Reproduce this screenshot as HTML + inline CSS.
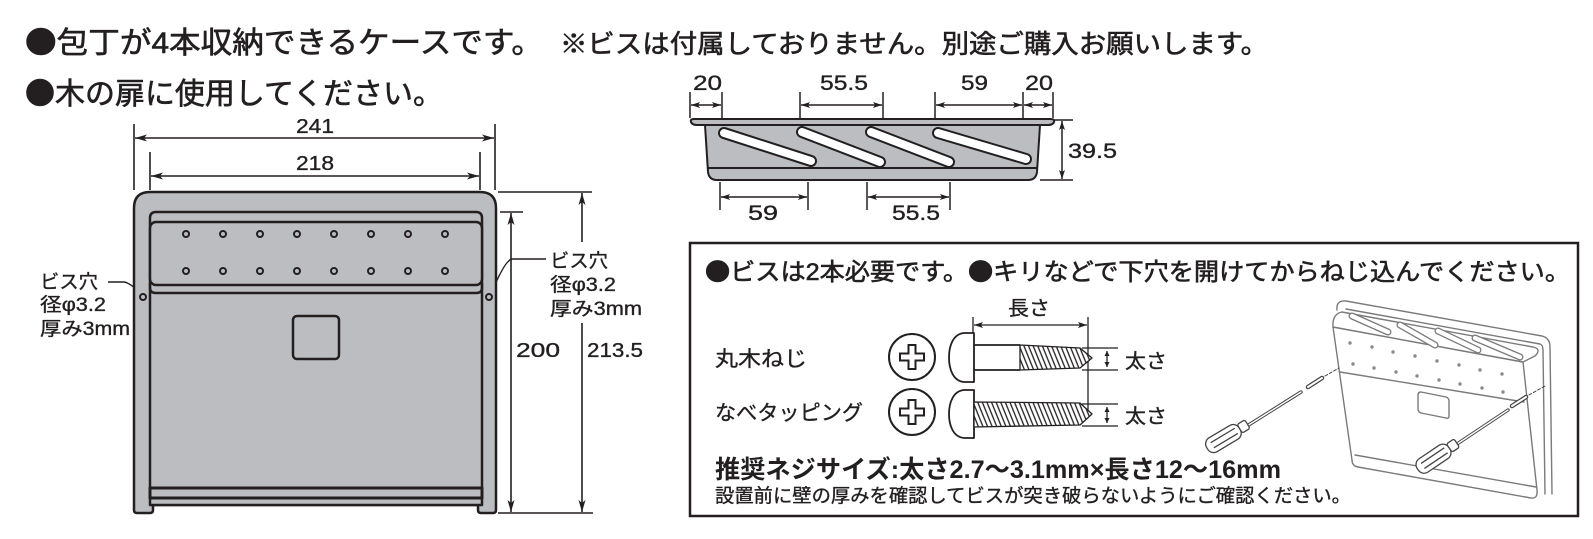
<!DOCTYPE html>
<html><head><meta charset="utf-8">
<style>
html,body{margin:0;padding:0;background:#fff;}
svg{display:block;}
text{font-family:"Liberation Sans","Noto Sans CJK JP",sans-serif;fill:#231f20;}
.h{stroke:#231f20;stroke-width:0.6;}
.m{stroke:#231f20;stroke-width:0.35;}
.b{font-family:"Noto Sans CJK JP",sans-serif;}
</style></head>
<body>
<svg width="1593" height="539" viewBox="0 0 1593 539" xmlns="http://www.w3.org/2000/svg">
<defs>
<marker id="a" viewBox="0 0 12 7" refX="12" refY="3.5" markerWidth="12" markerHeight="7" markerUnits="userSpaceOnUse" orient="auto-start-reverse"><path d="M0,0 L12,3.5 L0,7 L3,3.5Z" fill="#231f20"/></marker>
<marker id="s" viewBox="0 0 9 6" refX="9" refY="3" markerWidth="9" markerHeight="6" markerUnits="userSpaceOnUse" orient="auto-start-reverse"><path d="M0,0 L9,3 L0,6 L2,3Z" fill="#231f20"/></marker>
<marker id="t" viewBox="0 0 5 5" refX="5" refY="2.5" markerWidth="5" markerHeight="5" markerUnits="userSpaceOnUse" orient="auto-start-reverse"><path d="M0,0 L5,2.5 L0,5Z" fill="#231f20"/></marker>
<pattern id="thr" width="4.6" height="80" patternUnits="userSpaceOnUse" patternTransform="skewX(22)"><rect width="4.6" height="80" fill="#fff"/><line x1="1" y1="0" x2="1" y2="80" stroke="#231f20" stroke-width="1.4"/></pattern>
</defs>

<!-- Titles -->
<text class="h" x="25" y="53" font-size="30" textLength="518" lengthAdjust="spacingAndGlyphs"><tspan class="b">●</tspan>包丁が4本収納できるケースです。</text>
<text class="h" x="560" y="53" font-size="26" textLength="708" lengthAdjust="spacingAndGlyphs">※ビスは付属しておりません。別途ご購入お願いします。</text>
<text class="h" x="25" y="104" font-size="30" textLength="418" lengthAdjust="spacingAndGlyphs"><tspan class="b">●</tspan>木の扉に使用してください。</text>

<!-- ===== Left front drawing ===== -->
<g stroke="#231f20" fill="none" stroke-width="1.6">
  <line x1="134" y1="124" x2="134" y2="190"/>
  <line x1="495" y1="124" x2="495" y2="190"/>
  <line x1="135" y1="138" x2="494" y2="138" marker-start="url(#a)" marker-end="url(#a)"/>
  <line x1="150" y1="152" x2="150" y2="190"/>
  <line x1="480" y1="152" x2="480" y2="190"/>
  <line x1="151" y1="176" x2="479" y2="176" marker-start="url(#a)" marker-end="url(#a)"/>
  <line x1="498" y1="192" x2="592" y2="192"/>
  <line x1="500" y1="212" x2="523" y2="212"/>
  <line x1="498" y1="513" x2="593" y2="513"/>
  <line x1="511" y1="213" x2="511" y2="512" marker-start="url(#a)" marker-end="url(#a)"/>
  <line x1="582" y1="193" x2="582" y2="242" marker-start="url(#a)"/>
  <line x1="582" y1="323" x2="582" y2="512" marker-end="url(#a)"/>
  <path d="M108,282 L124,282 Q131,283 141,294" stroke-width="1.4"/>
  <path d="M546,259 L512,259 Q505,260 491,294" stroke-width="1.4"/>
</g>
<text class="m" x="315" y="133" font-size="20" text-anchor="middle" textLength="38" lengthAdjust="spacingAndGlyphs">241</text>
<text class="m" x="315" y="170" font-size="20" text-anchor="middle" textLength="38" lengthAdjust="spacingAndGlyphs">218</text>
<text class="m" x="516" y="357" font-size="20" textLength="44" lengthAdjust="spacingAndGlyphs">200</text>
<text class="m" x="587" y="357" font-size="20" textLength="56" lengthAdjust="spacingAndGlyphs">213.5</text>

<g fill="#bcbdc0" stroke="#231f20" stroke-width="2.5" stroke-linejoin="round">
  <path d="M134,208 Q134,192 150,192 L480,192 Q496,192 496,208 L496,510 Q496,513 493,513 L481,513 Q478,513 478,510 L478,505 L153,505 L153,510 Q153,513 150,513 L137,513 Q134,513 134,510 Z"/>
  <path d="M150,505 L150,218 Q150,212 156,212 L476,212 Q482,212 482,218 L482,505 Z"/>
  <path d="M150,283 L150,288 Q150,293 156,293 L476,293 Q482,293 482,288 L482,283" fill="none"/>
  <rect x="150" y="222" width="332" height="63" rx="6"/>
  <rect x="293" y="316" width="46" height="43" rx="4"/>
  <rect x="150" y="488" width="332" height="10" stroke-width="3"/>
  <line x1="150" y1="505" x2="482" y2="505" stroke-width="2"/>
</g>
<g fill="#bcbdc0" stroke="#231f20" stroke-width="2">
  <circle cx="186" cy="234" r="3"/><circle cx="223" cy="234" r="3"/><circle cx="260" cy="234" r="3"/><circle cx="297" cy="234" r="3"/><circle cx="334" cy="234" r="3"/><circle cx="371" cy="234" r="3"/><circle cx="408" cy="234" r="3"/><circle cx="445" cy="234" r="3"/>
  <circle cx="186" cy="271" r="3"/><circle cx="223" cy="271" r="3"/><circle cx="260" cy="271" r="3"/><circle cx="297" cy="271" r="3"/><circle cx="334" cy="271" r="3"/><circle cx="371" cy="271" r="3"/><circle cx="408" cy="271" r="3"/><circle cx="445" cy="271" r="3"/>
  <circle cx="143" cy="297" r="3"/><circle cx="489" cy="297" r="3"/>
</g>

<text class="m" x="40" y="288" font-size="19" textLength="58" lengthAdjust="spacingAndGlyphs">ビス穴</text>
<text class="m" x="40" y="311" font-size="19" textLength="66" lengthAdjust="spacingAndGlyphs">径φ3.2</text>
<text class="m" x="40" y="335" font-size="19" textLength="90" lengthAdjust="spacingAndGlyphs">厚み3mm</text>
<text class="m" x="550" y="267" font-size="19" textLength="58" lengthAdjust="spacingAndGlyphs">ビス穴</text>
<text class="m" x="550" y="291" font-size="19" textLength="66" lengthAdjust="spacingAndGlyphs">径φ3.2</text>
<text class="m" x="550" y="315" font-size="19" textLength="92" lengthAdjust="spacingAndGlyphs">厚み3mm</text>

<!-- ===== Tray (top view) ===== -->
<g stroke="#231f20" fill="none" stroke-width="1.5">
  <line x1="690" y1="92" x2="690" y2="118"/>
  <line x1="722" y1="92" x2="722" y2="120"/>
  <line x1="800" y1="92" x2="800" y2="120"/>
  <line x1="883" y1="92" x2="883" y2="120"/>
  <line x1="935" y1="92" x2="935" y2="120"/>
  <line x1="1023" y1="92" x2="1023" y2="120"/>
  <line x1="1053" y1="92" x2="1053" y2="118"/>
  <line x1="691" y1="105" x2="721" y2="105" marker-start="url(#s)" marker-end="url(#s)"/>
  <line x1="801" y1="105" x2="882" y2="105" marker-start="url(#s)" marker-end="url(#s)"/>
  <line x1="936" y1="105" x2="1022" y2="105" marker-start="url(#s)" marker-end="url(#s)"/>
  <line x1="1024" y1="105" x2="1052" y2="105" marker-start="url(#s)" marker-end="url(#s)"/>
  <line x1="720" y1="182" x2="720" y2="210"/>
  <line x1="808" y1="182" x2="808" y2="210"/>
  <line x1="867" y1="182" x2="867" y2="210"/>
  <line x1="950" y1="182" x2="950" y2="210"/>
  <line x1="721" y1="197" x2="807" y2="197" marker-start="url(#s)" marker-end="url(#s)"/>
  <line x1="868" y1="197" x2="949" y2="197" marker-start="url(#s)" marker-end="url(#s)"/>
  <line x1="1040" y1="120" x2="1073" y2="120"/>
  <line x1="1040" y1="180" x2="1073" y2="180"/>
  <line x1="1062" y1="121" x2="1062" y2="179" marker-start="url(#s)" marker-end="url(#s)"/>
</g>
<g fill="#bcbdc0" stroke="#231f20" stroke-width="2" stroke-linejoin="round">
  <path d="M705,125 L1040,125 L1037,172 Q1036,180 1028,180 L717,180 Q709,180 708,172 Z"/>
  <line x1="708" y1="168" x2="1037" y2="168"/>
  <path d="M694,119 L1050,119 Q1055,119 1054,122 Q1053,125 1048,125 L697,125 Q692,125 691,122 Q690,119 694,119 Z"/>
</g>
<g stroke-linecap="round" fill="none">
  <g stroke="#231f20" stroke-width="12">
    <line x1="724" y1="133" x2="811" y2="161"/>
    <line x1="802" y1="132" x2="880" y2="162"/>
    <line x1="871" y1="132" x2="949" y2="162"/>
    <line x1="938" y1="133" x2="1026" y2="159"/>
  </g>
  <g stroke="#fff" stroke-width="8">
    <line x1="724" y1="133" x2="811" y2="161"/>
    <line x1="802" y1="132" x2="880" y2="162"/>
    <line x1="871" y1="132" x2="949" y2="162"/>
    <line x1="938" y1="133" x2="1026" y2="159"/>
  </g>
</g>
<text class="m" x="693" y="90" font-size="21" textLength="29" lengthAdjust="spacingAndGlyphs">20</text>
<text class="m" x="820" y="90" font-size="21" textLength="48" lengthAdjust="spacingAndGlyphs">55.5</text>
<text class="m" x="961" y="90" font-size="21" textLength="27" lengthAdjust="spacingAndGlyphs">59</text>
<text class="m" x="1025" y="90" font-size="21" textLength="28" lengthAdjust="spacingAndGlyphs">20</text>
<text class="m" x="748" y="220" font-size="21" textLength="30" lengthAdjust="spacingAndGlyphs">59</text>
<text class="m" x="892" y="220" font-size="21" textLength="48" lengthAdjust="spacingAndGlyphs">55.5</text>
<text class="m" x="1068" y="158" font-size="21" textLength="49" lengthAdjust="spacingAndGlyphs">39.5</text>

<!-- ===== Bordered info box ===== -->
<rect x="690" y="243" width="888" height="273" fill="none" stroke="#231f20" stroke-width="2.5"/>
<text class="h" x="705" y="280" font-size="24" textLength="865" lengthAdjust="spacingAndGlyphs"><tspan class="b">●</tspan>ビスは2本必要です。<tspan class="b">●</tspan>キリなどで下穴を開けてからねじ込んでください。</text>

<text class="m" x="1008" y="315" font-size="20" textLength="42" lengthAdjust="spacingAndGlyphs">長さ</text>
<text class="m" x="715" y="366" font-size="21" textLength="92" lengthAdjust="spacingAndGlyphs">丸木ねじ</text>
<text class="m" x="715" y="420" font-size="21" textLength="148" lengthAdjust="spacingAndGlyphs">なべタッピング</text>
<text class="m" x="1125" y="368" font-size="20" textLength="42" lengthAdjust="spacingAndGlyphs">太さ</text>
<text class="m" x="1125" y="423" font-size="20" textLength="42" lengthAdjust="spacingAndGlyphs">太さ</text>

<g stroke="#231f20" fill="none" stroke-width="1.3">
  <line x1="973" y1="317" x2="973" y2="333"/>
  <line x1="1088" y1="317" x2="1088" y2="418"/>
  <line x1="974" y1="325" x2="1087" y2="325" marker-start="url(#s)" marker-end="url(#s)"/>
  <line x1="1082" y1="348" x2="1118" y2="348"/>
  <line x1="1082" y1="370" x2="1118" y2="370"/>
  <line x1="1107" y1="351" x2="1107" y2="367" marker-start="url(#t)" marker-end="url(#t)"/>
  <line x1="1082" y1="404" x2="1118" y2="404"/>
  <line x1="1082" y1="426" x2="1118" y2="426"/>
  <line x1="1107" y1="407" x2="1107" y2="423" marker-start="url(#t)" marker-end="url(#t)"/>
</g>

<g stroke="#231f20" stroke-width="2" fill="#fff">
  <circle cx="912" cy="357" r="23"/>
  <path d="M908.5,345 L915.5,345 L915.5,353.5 L924,353.5 L924,360.5 L915.5,360.5 L915.5,369 L908.5,369 L908.5,360.5 L900,360.5 L900,353.5 L908.5,353.5 Z"/>
  <circle cx="912" cy="412" r="23"/>
  <path d="M908.5,400 L915.5,400 L915.5,408.5 L924,408.5 L924,415.5 L915.5,415.5 L915.5,424 L908.5,424 L908.5,415.5 L900,415.5 L900,408.5 L908.5,408.5 Z"/>
</g>

<g stroke="#231f20" stroke-width="1.8" stroke-linejoin="round">
  <path d="M974,333 L964,333 C953,334 949,346 949,357.5 C949,369 953,381 964,382 L974,382 Z" fill="#fff"/>
  <line x1="974" y1="345" x2="1020" y2="345"/>
  <line x1="974" y1="370" x2="1020" y2="370"/>
  <path d="M1020,345 L1080,348 L1092,358 L1080,368 L1020,370 Z" fill="url(#thr)" stroke-width="1.3"/>
  <path d="M974,390 L964,390 C953,391 949,403 949,414 C949,425 953,437 964,438 L974,438 Z" fill="#fff"/>
  <path d="M974,402 L1080,403 L1092,414 L1080,425 L974,427 Z" fill="url(#thr)" stroke-width="1.3"/>
</g>

<text x="715" y="478" font-size="25" font-weight="700" textLength="566" lengthAdjust="spacingAndGlyphs">推奨ネジサイズ:太さ2.7〜3.1mm×長さ12〜16mm</text>
<text class="m" x="715" y="502" font-size="19" textLength="636" lengthAdjust="spacingAndGlyphs">設置前に壁の厚みを確認してビスが突き破らないようにご確認ください。</text>

<!-- ===== Installation illustration ===== -->
<g fill="#fff" stroke="#7a7a7a" stroke-width="1.4" stroke-linejoin="round" stroke-linecap="round">
  <path d="M1337,310 Q1336,300 1346,301 L1542,336 Q1550,338 1550,347 L1552,494" fill="none"/>
  <path d="M1346,309 L1540,344 Q1543,345 1543,350 L1545,494" fill="none"/>
  <path d="M1333,327 L1523,362 L1537,490 Q1538,499 1531,498 L1358,467 Q1352,466 1352,460 Z"/>
  <path d="M1333,327 Q1332,314 1342,312 L1533,347 Q1542,349 1535,356 L1523,362 Z"/>
  <line x1="1340" y1="372" x2="1524" y2="402"/>
  <line x1="1355" y1="455" x2="1536" y2="487"/>
  <path d="M1421,392 L1446,397 Q1449,398 1449,401 L1449,416 Q1449,419 1446,418 L1421,413 Q1418,412 1418,409 L1418,395 Q1418,392 1421,392Z"/>
</g>
<g stroke-linecap="round" fill="none">
  <g stroke="#7a7a7a" stroke-width="7">
    <line x1="1352" y1="316" x2="1388" y2="332"/>
    <line x1="1400" y1="325" x2="1435" y2="345"/>
    <line x1="1438" y1="331" x2="1478" y2="350"/>
    <line x1="1475" y1="338" x2="1520" y2="357"/>
  </g>
  <g stroke="#fff" stroke-width="4.4">
    <line x1="1352" y1="316" x2="1388" y2="332"/>
    <line x1="1400" y1="325" x2="1435" y2="345"/>
    <line x1="1438" y1="331" x2="1478" y2="350"/>
    <line x1="1475" y1="338" x2="1520" y2="357"/>
  </g>
</g>
<g fill="#8a8a8a">
  <circle cx="1350" cy="343" r="1.7"/><circle cx="1372" cy="347" r="1.7"/><circle cx="1393" cy="352" r="1.7"/><circle cx="1415" cy="356" r="1.7"/><circle cx="1437" cy="361" r="1.7"/><circle cx="1459" cy="365" r="1.7"/><circle cx="1480" cy="370" r="1.7"/><circle cx="1502" cy="374" r="1.7"/>
  <circle cx="1353" cy="364" r="1.7"/><circle cx="1374" cy="368" r="1.7"/><circle cx="1396" cy="372" r="1.7"/><circle cx="1417" cy="376" r="1.7"/><circle cx="1439" cy="380" r="1.7"/><circle cx="1460" cy="384" r="1.7"/><circle cx="1482" cy="388" r="1.7"/><circle cx="1503" cy="392" r="1.7"/>
</g>
<g stroke="#444" fill="none" stroke-linecap="round">
  <line x1="1247" y1="426" x2="1301" y2="392" stroke-width="3.4"/>
  <line x1="1247" y1="426" x2="1301" y2="392" stroke="#fff" stroke-width="1.4"/>
  <line x1="1308" y1="387" x2="1322" y2="378" stroke-width="4.5"/>
  <line x1="1308" y1="387" x2="1322" y2="378" stroke="#fff" stroke-width="2"/>
  <line x1="1325" y1="376" x2="1339" y2="368" stroke-width="1" stroke-dasharray="3 2"/>
  <line x1="1457" y1="444" x2="1508" y2="410" stroke-width="3.4"/>
  <line x1="1457" y1="444" x2="1508" y2="410" stroke="#fff" stroke-width="1.4"/>
  <line x1="1512" y1="406" x2="1526" y2="397" stroke-width="4.5"/>
  <line x1="1512" y1="406" x2="1526" y2="397" stroke="#fff" stroke-width="2"/>
  <line x1="1529" y1="395" x2="1545" y2="386" stroke-width="1" stroke-dasharray="3 2"/>
</g>
<g transform="translate(1226,437) rotate(-31)" stroke="#444" stroke-width="1.3" fill="#fff">
  <rect x="-22" y="-8" width="38" height="16" rx="7"/>
  <rect x="16" y="-5" width="9" height="10" rx="2"/>
  <line x1="-16" y1="-3" x2="12" y2="-3"/><line x1="-16" y1="3" x2="12" y2="3"/>
</g>
<g transform="translate(1436,457) rotate(-34)" stroke="#444" stroke-width="1.3" fill="#fff">
  <rect x="-22" y="-8" width="38" height="16" rx="7"/>
  <rect x="16" y="-5" width="9" height="10" rx="2"/>
  <line x1="-16" y1="-3" x2="12" y2="-3"/><line x1="-16" y1="3" x2="12" y2="3"/>
</g>
</svg>
</body></html>
